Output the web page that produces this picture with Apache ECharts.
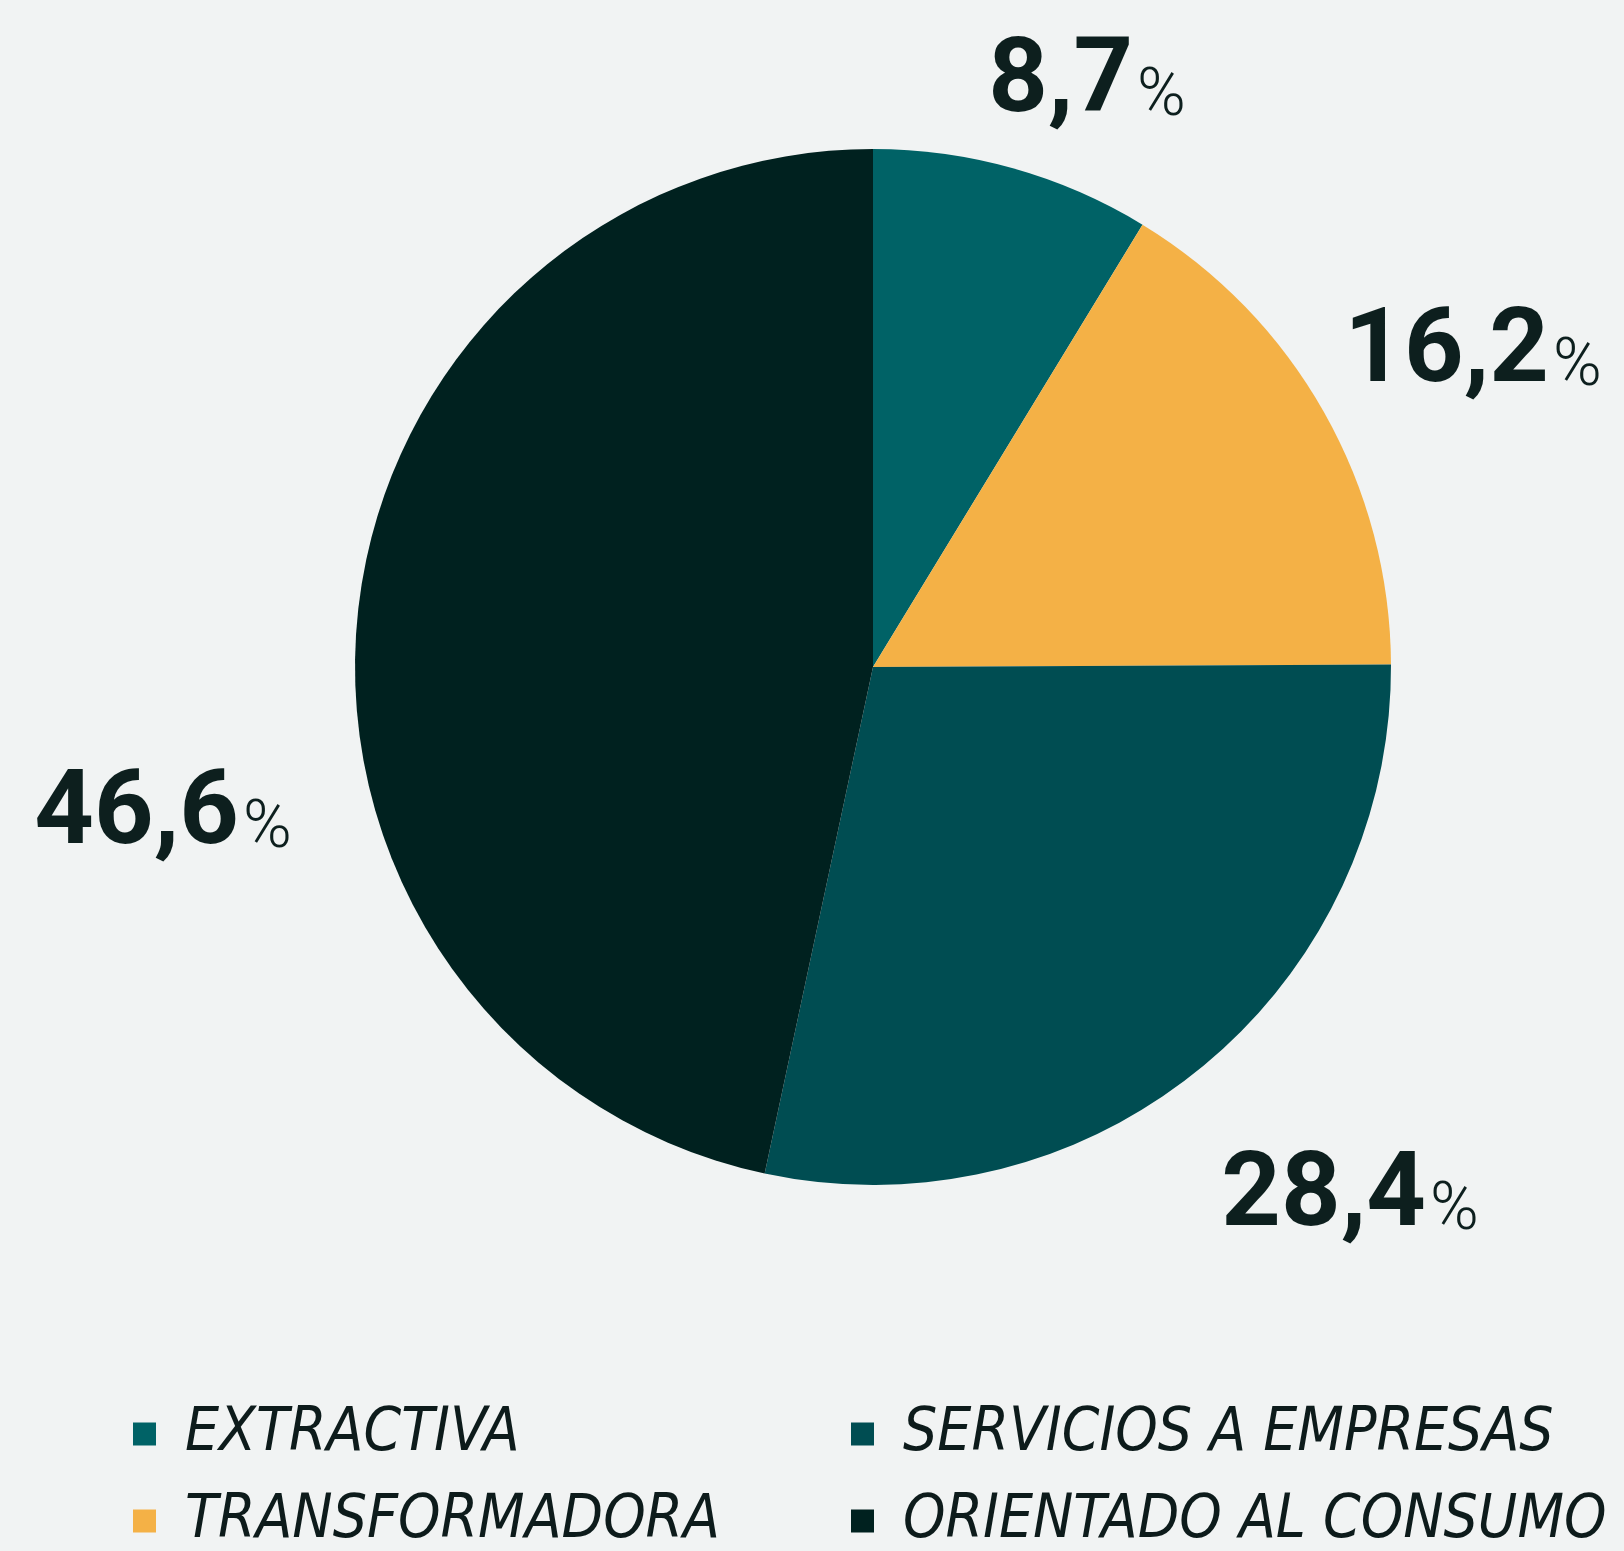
<!DOCTYPE html>
<html>
<head>
<meta charset="utf-8">
<script src="https://cdn.jsdelivr.net/npm/echarts@6/dist/echarts.min.js"></script>
<style>
  html, body { margin: 0; padding: 0; background: #f1f3f3; }
  #chart { width: 1624px; height: 1551px; }
</style>
</head>
<body>
<div id="chart"></div>
<script>
// sectores y porcentajes
const sectores = ['EXTRACTIVA', 'TRANSFORMADORA', 'SERVICIOS A EMPRESAS', 'ORIENTADO AL CONSUMO']
const porcentajes = [8.7, 16.2, 28.4, 46.6]
const colores = ['#006266', '#f4b146', '#004d52', '#00211f']

// donde va cada etiqueta (centro del texto)
const etiquetaX = [1087, 1473, 1350, 163]
const etiquetaY = [80, 350, 1194, 812]

const chart = echarts.init(document.getElementById('chart'))

const legendText = {
    fontFamily: 'DejaVu Sans Condensed',
    fontStyle: 'italic',
    fontSize: 60,
    lineHeight: 60,
    color: '#0d1b1b',
    padding: [0, 0, 0, 24]
}

const legendBase = {
    orient: 'vertical',
    top: 1404,
    height: 147,
    padding: 0,
    itemWidth: 23,
    itemHeight: 23,
    itemGap: 27,
    icon: 'rect',
    textStyle: legendText
}

chart.setOption({
    backgroundColor: '#f1f3f3',
    animation: false,
    legend: [
        Object.assign({}, legendBase, { left: 133, data: [sectores[0], sectores[1]] }),
        Object.assign({}, legendBase, { left: 851, data: [sectores[2], sectores[3]] })
    ],
    series: [
        {
            type: 'pie',
            center: [873, 667],
            radius: 518,
            startAngle: 90,
            clockwise: true,
            data: sectores.map((s, i) => ({
                name: s,
                value: porcentajes[i],
                itemStyle: { color: colores[i] }
            })),
            labelLine: { show: false },
            label: {
                show: true,
                position: 'inside',
                overflow: 'none',
                formatter: p => '{n|' + String(p.value).replace('.', ',') + '}{p|%}',
                rich: {
                    n: {
                        fontFamily: 'Roboto',
                        fontWeight: 'bold',
                        fontSize: 104,
                        color: '#0d1f1e',
                        lineHeight: 114,
                        verticalAlign: 'bottom'
                    },
                    p: {
                        fontFamily: 'Roboto',
                        fontWeight: 300,
                        fontSize: 66,
                        color: '#0d1f1e',
                        lineHeight: 114,
                        verticalAlign: 'bottom',
                        padding: [0, 0, 6, 4]
                    }
                }
            },
            labelLayout: params => ({
                x: etiquetaX[params.dataIndex],
                y: etiquetaY[params.dataIndex],
                align: 'center',
                verticalAlign: 'middle'
            })
        }
    ]
})

window.addEventListener('resize', () => {
    chart.resize()
})
</script>
</body>
</html>
